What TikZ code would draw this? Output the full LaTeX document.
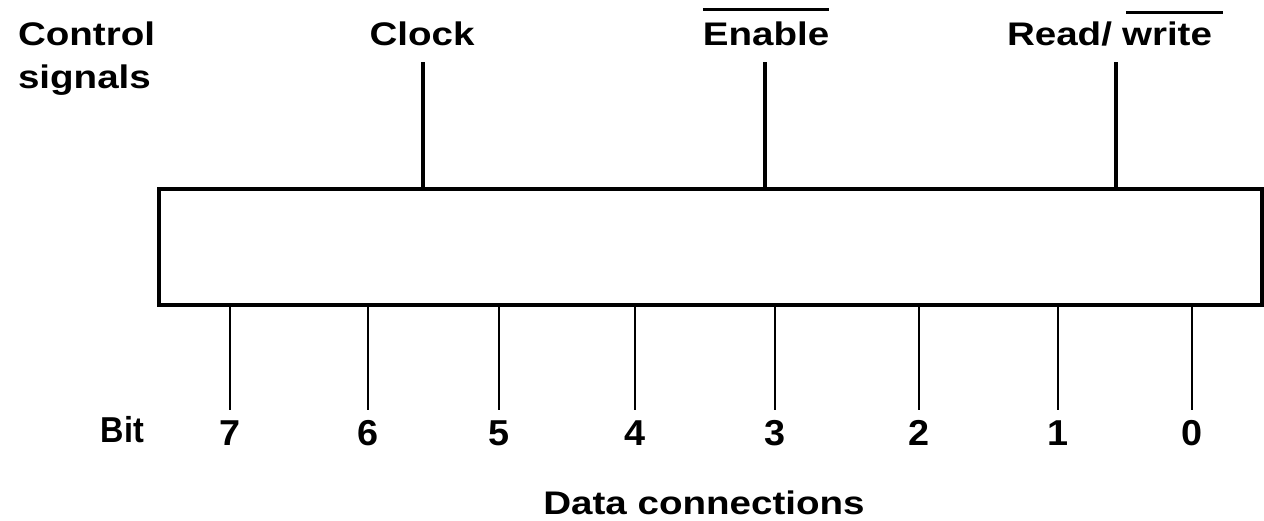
\documentclass[tikz,border=0pt]{standalone}
\usepackage{fontspec}
\setmainfont{Liberation Sans}[FakeStretch=1.18]
\newfontfamily\digitfont{Liberation Sans}[FakeStretch=1.05]
\newfontfamily\narrowfont{Liberation Sans}[FakeStretch=0.9]
\usetikzlibrary{calc}
\begin{document}
\begin{tikzpicture}[x=0.75pt,y=-0.75pt,
  lbl/.style={font=\bfseries\fontsize{24.5}{28}\selectfont, inner sep=0pt, outer sep=0pt},
  bitlbl/.style={font=\digitfont\bfseries\fontsize{27}{30}\selectfont, inner sep=0pt, outer sep=0pt, anchor=base},
  heavy/.style={line width=3pt},
  dataline/.style={line width=1.7pt},
  bar/.style={line width=2pt}]
\useasboundingbox (0,0) rectangle (1264,521);

% register body
\node[draw, heavy, minimum width=826.9pt, minimum height=87pt, inner sep=0pt] (box) at (710.25,247) {};

% control signal labels
\node[lbl, anchor=base west] (ctl) at (18,45) {Control};
\node[lbl, anchor=base west] (sig) at (18,88) {signals};
\node[lbl, anchor=base] (clkl) at (422,45) {Clock};
\node[lbl, anchor=base] (enl) at (766,45) {Enable};
\node[lbl, anchor=base west] (rdl) at (1007,45) {Read/};
\node[lbl, anchor=base east] (wrl) at (1212,45) {write};
\draw[bar] ($(enl.north west)+(0,-12)$) -- ($(enl.north east)+(0,-12)$);
\draw[bar] ($(wrl.north west)+(4,-9)$) -- ($(wrl.north east)+(11,-9)$);

% control lines into the register
\coordinate (clkt) at (423,62);
\coordinate (ent) at (765,62);
\coordinate (rwt) at (1116,62);
\draw[heavy] (clkt) -- (clkt |- box.north);
\draw[heavy] (ent) -- (ent |- box.north);
\draw[heavy] (rwt) -- (rwt |- box.north);

% data bits
\node[bitlbl, font=\narrowfont\bfseries\fontsize{27}{30}\selectfont, anchor=base east] (bitl) at (144,442) {Bit};
\foreach \n/\x in {7/230, 6/368, 5/499, 4/635, 3/775, 2/919, 1/1058, 0/1192} {
  \node[bitlbl] (b\n) at (\x,445) {\n};
  \draw[dataline] (b\n |- box.south) -- ($(b\n.north)+(0,-10)$);
}

\node[lbl, anchor=base] (dc) at (704,514) {Data connections};
\end{tikzpicture}
\end{document}
